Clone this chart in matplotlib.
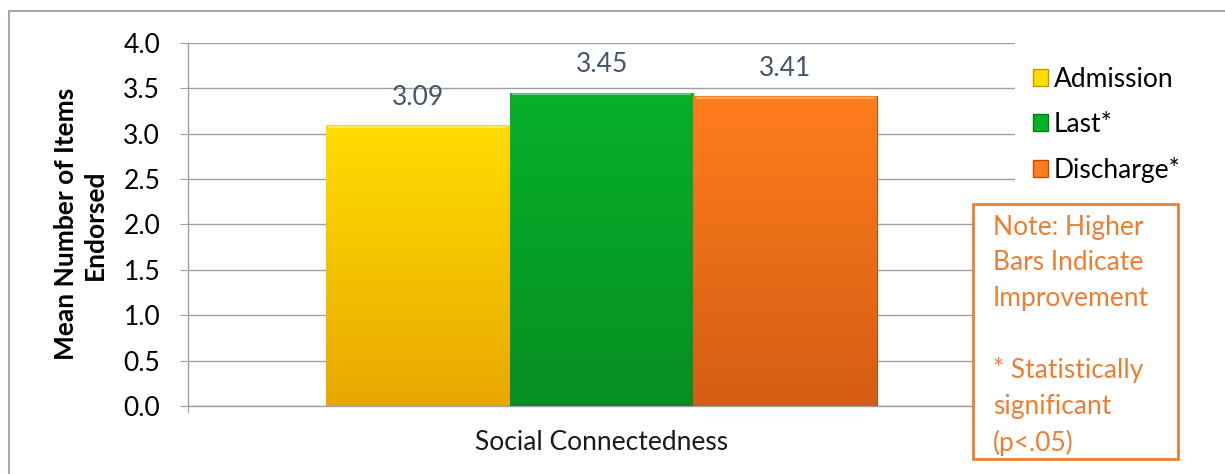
import numpy as np
import matplotlib
matplotlib.use("Agg")
import matplotlib.pyplot as plt
from matplotlib.patches import Rectangle, Patch
from matplotlib.colors import LinearSegmentedColormap

plt.rcParams['font.family'] = ['Lato', 'DejaVu Sans']

# Data
category = "Social Connectedness"
series = ["Admission", "Last*", "Discharge*"]
values = [3.09, 3.45, 3.41]
yticks = [0.0, 0.5, 1.0, 1.5, 2.0, 2.5, 3.0, 3.5, 4.0]
ylabel = "Mean Number of Items\nEndorsed"
note = "Note: Higher\nBars Indicate\nImprovement\n\n* Statistically\nsignificant\n(p<.05)"

# Gradient stops (top -> bottom) for each series
grad_top = ["#FFDD00", "#06B12A", "#FF7D1C"]
grad_bot = ["#E9A800", "#078E22", "#D45D14"]
edge_cols = ["#C89400", "#067A1E", "#B8500F"]

W, H = 1225, 474
fig = plt.figure(figsize=(W / 100, H / 100), dpi=100)

def fx(px):
    return px / W

def fy(py):
    return 1 - py / H

# Outer frame (runs off the right and bottom edges)
fig.add_artist(Rectangle((fx(9), fy(600)), fx(1400), fy(11) - fy(600),
                         transform=fig.transFigure, fill=False,
                         edgecolor="#A6A6A6", linewidth=1.5, zorder=-1))

ax = fig.add_axes([fx(188), fy(406), fx(1015) - fx(188), fy(42.7) - fy(406)])

gray = "#A0A0A0"
bar_w = 0.222
offsets = [-bar_w, 0.0, bar_w]
fs = 19

for i, (name, v) in enumerate(zip(series, values)):
    b = ax.bar(offsets[i], v, width=bar_w, color=grad_top[i],
               edgecolor=edge_cols[i], linewidth=0.8, zorder=3, label=name)[0]
    cmap = LinearSegmentedColormap.from_list(f"g{i}", [grad_bot[i], grad_top[i]])
    grad = np.linspace(0, 1, 256).reshape(-1, 1)
    x0 = offsets[i] - bar_w / 2
    im = ax.imshow(grad, cmap=cmap, origin="lower", aspect="auto",
                   extent=(x0, x0 + bar_w, 0, v), zorder=3.5)
    im.set_clip_path(b)
    # thin highlight along the top edge
    ax.plot([x0 + 0.004, x0 + bar_w - 0.004], [v - 0.02, v - 0.02],
            color="white", alpha=0.35, linewidth=1.5, zorder=4)
    ax.text(offsets[i], v + 0.31, f"{v:.2f}", ha="center", va="center",
            fontsize=fs, color="#44546A", zorder=5)

ax.set_xlim(-0.5, 0.5)
ax.set_ylim(0, 4.0)

ax.set_yticks(yticks)
ax.set_yticklabels([f"{t:.1f}" for t in yticks], fontsize=fs)
ax.yaxis.grid(True, color=gray, linewidth=1.0, zorder=0)
ax.set_axisbelow(True)
ax.tick_params(axis="y", direction="out", length=6, color=gray, pad=14)
ax.set_xticks([-0.5, 0.5])
ax.set_xticklabels(["", ""])
ax.tick_params(axis="x", direction="out", length=5, color=gray)

for s in ["top", "right"]:
    ax.spines[s].set_visible(False)
for s in ["left", "bottom"]:
    ax.spines[s].set_color(gray)
    ax.spines[s].set_linewidth(1.0)

ax.set_ylabel(ylabel, fontsize=fs, fontweight="bold", labelpad=12,
              linespacing=1.25)
ax.text(0.5, -0.10, category, transform=ax.transAxes, ha="center",
        va="center", fontsize=fs, color="#1A1A1A")

handles = [Patch(facecolor=grad_top[i], edgecolor=edge_cols[i]) for i in range(3)]
fig.legend(handles, series, loc="upper left",
           bbox_to_anchor=(fx(1022), fy(56)), frameon=False, fontsize=fs,
           handlelength=0.6, handleheight=0.6, handletextpad=0.2,
           labelspacing=0.76, borderaxespad=0)

# Note box, drawn over the gridlines
fig.add_artist(Rectangle((fx(972.5), fy(458.5)), fx(1178) - fx(972.5),
                         fy(204) - fy(458.5), transform=fig.transFigure,
                         facecolor="white", edgecolor="#ED7D31", linewidth=2,
                         zorder=5))
fig.text(fx(993), fy(215), note, ha="left", va="top", fontsize=fs,
         color="#ED7D31", linespacing=1.52, zorder=6)

fig.savefig("out.png", dpi=100)
